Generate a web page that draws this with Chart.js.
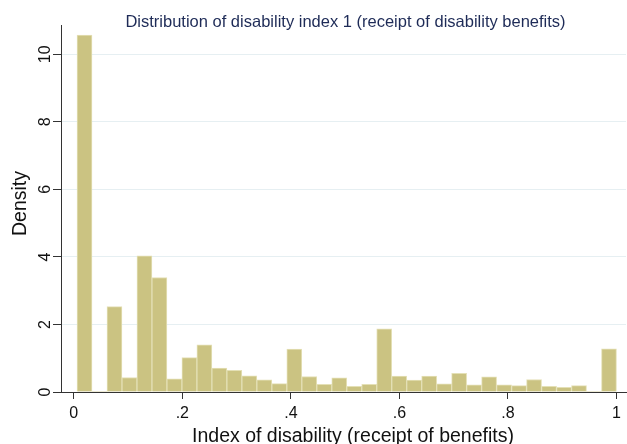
<!DOCTYPE html>
<html>
<head>
<meta charset="utf-8">
<script src="https://cdn.jsdelivr.net/npm/chart.js@4/dist/chart.umd.min.js"></script>
<style>
  html, body { margin: 0; padding: 0; background: #ffffff; }
  #wrap { width: 627px; height: 444px; }
</style>
</head>
<body>
<div id="wrap"><canvas id="c" width="627" height="444"></canvas></div>
<script>
// ---- data ----
const chartTitle = "Distribution of disability index 1 (receipt of disability benefits)";
const xTitle = "Index of disability (receipt of benefits)";
const yTitle = "Density";
const binStart = 0.006;
const binWidth = 0.02761;
const density = [10.57, 0, 2.53, 0.43, 4.03, 3.39, 0.39, 1.02, 1.40, 0.71,
                 0.64, 0.48, 0.36, 0.25, 1.27, 0.46, 0.23, 0.42, 0.17, 0.23,
                 1.87, 0.47, 0.35, 0.47, 0.24, 0.55, 0.21, 0.45, 0.21, 0.19,
                 0.37, 0.17, 0.14, 0.19, 0, 1.28];
const xTicks = [0, 0.2, 0.4, 0.6, 0.8, 1];
const xTickLabels = ["0", ".2", ".4", ".6", ".8", "1"];
const yTicks = [0, 2, 4, 6, 8, 10];
const yTickLabels = ["0", "2", "4", "6", "8", "10"];

const FONT = "'Liberation Sans', Arial, sans-serif";

const points = density.map((d, i) => ({ x: binStart + (i + 0.5) * binWidth, y: d }));

const textPlugin = {
  id: 'texts',
  afterDraw(chart) {
    const ctx = chart.ctx;
    const ys = chart.scales.y;
    ctx.save();
    // title
    ctx.fillStyle = '#1e2b57';
    ctx.font = "16.5px " + FONT;
    ctx.textAlign = 'center';
    ctx.textBaseline = 'alphabetic';
    ctx.fillText(chartTitle, 345.5, 27);
    // x title
    ctx.fillStyle = '#111111';
    ctx.font = "19.5px " + FONT;
    ctx.fillText(xTitle, 353, 441.5);
    // y title
    ctx.save();
    ctx.translate(26, 203.5);
    ctx.rotate(-Math.PI / 2);
    ctx.fillText(yTitle, 0, 0);
    ctx.restore();
    // y tick labels (rotated, Stata style)
    ctx.font = "16px " + FONT;
    yTicks.forEach((v, i) => {
      const py = ys.getPixelForValue(v);
      ctx.save();
      ctx.translate(49.5, py);
      ctx.rotate(-Math.PI / 2);
      ctx.fillText(yTickLabels[i], 0, 0);
      ctx.restore();
    });
    ctx.restore();
  }
};

new Chart(document.getElementById('c'), {
  type: 'bar',
  data: {
    datasets: [{
      data: points,
      backgroundColor: '#cbc382',
      borderColor: '#e4e0b6',
      borderWidth: (c) => (c.raw && c.raw.y > 0 ? 1 : 0),
      barPercentage: 1,
      categoryPercentage: 1
    }]
  },
  options: {
    responsive: false,
    devicePixelRatio: 1,
    animation: false,
    layout: { padding: { top: 25, right: 1, left: 0, bottom: 0 } },
    plugins: {
      legend: { display: false },
      title: { display: false },
      tooltip: { enabled: false }
    },
    scales: {
      x: {
        type: 'linear',
        min: -0.0235,
        max: 1.0175,
        offset: false,
        grid: {
          display: true,
          drawOnChartArea: false,
          drawTicks: true,
          tickLength: 7,
          tickColor: '#333333',
          offset: false
        },
        border: { display: true, color: '#333333', width: 1 },
        ticks: {
          color: '#111111',
          font: { family: FONT, size: 16 },
          padding: 5,
          maxRotation: 0,
          autoSkip: false,
          callback: (v, i) => xTickLabels[i]
        },
        afterBuildTicks: (s) => { s.ticks = xTicks.map(v => ({ value: v })); },
        afterFit: (s) => { s.height = 52; }
      },
      y: {
        min: 0,
        max: 10.87,
        grid: {
          color: (c) => (c.tick && c.tick.value === 0 ? 'rgba(0,0,0,0)' : '#e6eff2'),
          tickColor: '#333333',
          tickLength: 8,
          lineWidth: 1
        },
        border: { display: true, color: '#333333', width: 1 },
        ticks: { display: false },
        afterBuildTicks: (s) => { s.ticks = yTicks.map(v => ({ value: v })); },
        afterFit: (s) => { s.width = 61; }
      }
    }
  },
  plugins: [textPlugin]
});
</script>
</body>
</html>
